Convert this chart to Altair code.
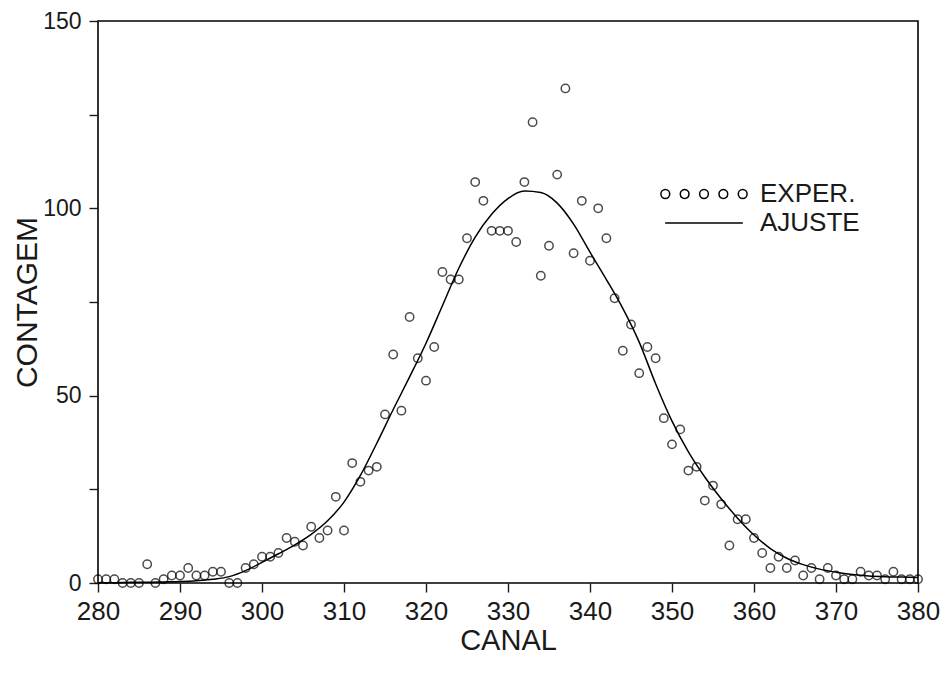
import altair as alt
import pandas as pd

canal = [280, 281, 282, 283, 284, 285, 286, 287, 288, 289,
         290, 291, 292, 293, 294, 295, 296, 297, 298, 299,
         300, 301, 302, 303, 304, 305, 306, 307, 308, 309,
         310, 311, 312, 313, 314, 315, 316, 317, 318, 319,
         320, 321, 322, 323, 324, 325, 326, 327, 328, 329,
         330, 331, 332, 333, 334, 335, 336, 337, 338, 339,
         340, 341, 342, 343, 344, 345, 346, 347, 348, 349,
         350, 351, 352, 353, 354, 355, 356, 357, 358, 359,
         360, 361, 362, 363, 364, 365, 366, 367, 368, 369,
         370, 371, 372, 373, 374, 375, 376, 377, 378, 379, 380]
contagem = [1, 1, 1, 0, 0, 0, 5, 0, 1, 2,
            2, 4, 2, 2, 3, 3, 0, 0, 4, 5,
            7, 7, 8, 12, 11, 10, 15, 12, 14, 23,
            14, 32, 27, 30, 31, 45, 61, 46, 71, 60,
            54, 63, 83, 81, 81, 92, 107, 102, 94, 94,
            94, 91, 107, 123, 82, 90, 109, 132, 88, 102,
            86, 100, 92, 76, 62, 69, 56, 63, 60, 44,
            37, 41, 30, 31, 22, 26, 21, 10, 17, 17,
            12, 8, 4, 7, 4, 6, 2, 4, 1, 4,
            2, 1, 1, 3, 2, 2, 1, 3, 1, 1, 1]

# Fitted curve (at every second channel)
canal_ajuste = [280, 282, 284, 286, 288, 290, 292, 294, 296, 298,
                300, 302, 304, 306, 308, 310, 312, 314, 316, 318,
                320, 322, 324, 326, 328, 330, 332, 334, 336, 338,
                340, 342, 344, 346, 348, 350, 352, 354, 356, 358,
                360, 362, 364, 366, 368, 370, 372, 374, 376, 378, 380]
ajuste = [0.1, 0.1, 0.2, 0.2, 0.3, 0.4, 0.6, 1.0, 1.7, 3.3,
          5.5, 7.8, 10.2, 13.0, 16.6, 21.6, 28.7, 37.3, 46.3, 55.0,
          64.0, 74.0, 84.0, 92.3, 98.4, 102.6, 104.6, 104.2, 101.4, 95.8,
          88.3, 81.0, 73.3, 64.3, 53.2, 43.2, 35.0, 28.3, 22.5, 17.3,
          12.8, 9.2, 6.6, 4.9, 3.7, 2.9, 2.3, 1.9, 1.7, 1.6, 1.5]

series = ["EXPER.", "AJUSTE"]
x_ticks = [280, 290, 300, 310, 320, 330, 340, 350, 360, 370, 380]
y_ticks = [0, 25, 50, 75, 100, 125, 150]

FONT = "Liberation Sans"
INK = "#1a1a1a"

df_pts = pd.DataFrame({"canal": canal, "contagem": contagem})
df_fit = pd.DataFrame({"canal": canal_ajuste, "ajuste": ajuste})
df_leg = pd.DataFrame({"serie": series})

# legend symbols: five small circles, and a horizontal line
PT_SIZE = 70
S = PT_SIZE ** 0.5 / 2.0  # vega custom path scale (px per unit)
r = 4.4 / S
circles = ""
for k in (-2, -1, 0, 1, 2):
    cx = k * 19.35 / S
    circles += (f"M{cx + r:.3f},0A{r:.3f},{r:.3f},0,1,1,{cx - r:.3f},0"
                f"A{r:.3f},{r:.3f},0,1,1,{cx + r:.3f},0Z")
half = 38.85 / S
line_path = f"M{-half:.3f},0L{half:.3f},0"

x_scale = alt.Scale(domain=[280, 380], nice=False, zero=False)
y_scale = alt.Scale(domain=[0, 150], nice=False)

x_axis = alt.Axis(values=x_ticks, title="CANAL", grid=False, domain=False,
                  tickSize=9, tickWidth=1.4, tickColor=INK,
                  labelFontSize=26, labelPadding=6, labelFlush=False,
                  labelFont=FONT, labelColor=INK,
                  titleFont=FONT, titleFontSize=29, titleFontWeight="normal",
                  titleColor=INK, titlePadding=2)
y_axis = alt.Axis(values=y_ticks, title="CONTAGEM", grid=False, domain=False,
                  labelExpr="datum.value % 50 == 0 ? datum.label : ''",
                  tickSize=9, tickWidth=1.4, tickColor=INK,
                  labelFontSize=23, labelPadding=8,
                  labelFont=FONT, labelColor=INK,
                  titleFont=FONT, titleFontSize=30, titleFontWeight="normal",
                  titleColor=INK, titlePadding=0)

points = alt.Chart(df_pts).mark_point(
    filled=False, size=PT_SIZE, strokeWidth=1.5, color="black"
).encode(
    x=alt.X("canal:Q", scale=x_scale, axis=x_axis),
    y=alt.Y("contagem:Q", scale=y_scale, axis=y_axis),
)

fit = alt.Chart(df_fit).mark_line(
    color="black", strokeWidth=1.5, interpolate="monotone"
).encode(
    x=alt.X("canal:Q", scale=x_scale),
    y=alt.Y("ajuste:Q", scale=y_scale),
)

legend_layer = alt.Chart(df_leg).mark_point(
    filled=False, opacity=0, size=PT_SIZE, color="black"
).encode(
    shape=alt.Shape(
        "serie:N",
        scale=alt.Scale(domain=series, range=[circles, line_path]),
        legend=alt.Legend(
            title=None, orient="none", legendX=593, legendY=160,
            padding=0, rowPadding=3, labelOffset=43,
            symbolSize=PT_SIZE, symbolOpacity=1, symbolStrokeWidth=1.5,
            symbolStrokeColor="black", symbolFillColor="transparent",
            labelFont=FONT, labelFontSize=26, labelColor=INK,
            labelLimit=300,
        ),
    )
)

chart = alt.layer(fit, points, legend_layer).properties(
    width=820, height=562,
    autosize=alt.AutoSizeParams(type="none"),
    padding={"left": 90, "top": 13, "right": 25, "bottom": 88},
).configure(
    background="white"
).configure_view(
    stroke="black", strokeWidth=1.6
)

chart.save("out.html", embed_options={"renderer": "svg", "actions": False})
